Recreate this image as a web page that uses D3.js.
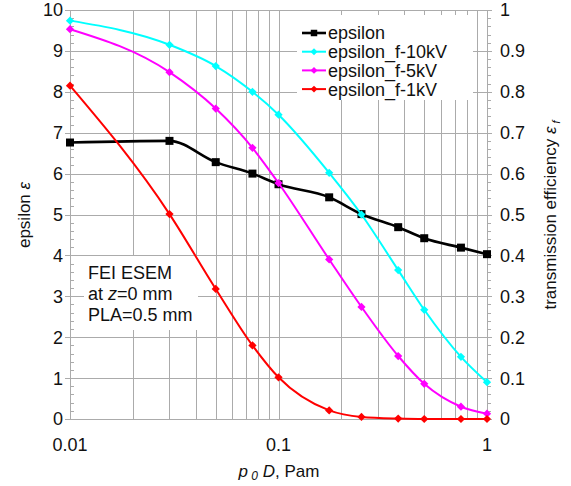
<!DOCTYPE html>
<html lang="en">
	<head>
		<meta charset="utf-8">
		<title>epsilon vs p0D</title>
		<script type="text/javascript" src="https://cdn.jsdelivr.net/npm/d3@7"></script>
		<style type="text/css">
			body { margin: 0; background: #fff; }
			text { font-family: "Liberation Sans", Arial, sans-serif; fill: #111; }
		</style>
	</head>
	<body>
		<script type="text/javascript">

			//Width and height
			var w = 571;
			var h = 486;

			//Data
			var pD = [0.01, 0.03, 0.05, 0.075, 0.1, 0.175, 0.25, 0.375, 0.5, 0.75, 1];
			var epsilon = [6.76, 6.80, 6.28, 6.0, 5.74, 5.42, 5.01, 4.69, 4.42, 4.19, 4.03];
			var eff10kV = [0.974, 0.915, 0.863, 0.80, 0.744, 0.602, 0.50, 0.364, 0.267, 0.152, 0.090];
			var eff5kV = [0.953, 0.848, 0.759, 0.663, 0.577, 0.390, 0.274, 0.154, 0.086, 0.030, 0.013];
			var eff1kV = [0.815, 0.501, 0.318, 0.180, 0.102, 0.021, 0.005, 0.001, 0, 0, 0];
			var leftTicks = [0, 1, 2, 3, 4, 5, 6, 7, 8, 9, 10];
			var rightTicks = [0, 0.1, 0.2, 0.3, 0.4, 0.5, 0.6, 0.7, 0.8, 0.9, 1];
			var xTicks = [0.01, 0.1, 1];

			var series = [
				{ name: "epsilon", values: epsilon, axis: "left", color: "#000000", rot: 0 },
				{ name: "epsilon_f-10kV", values: eff10kV, axis: "right", color: "#00ffff", rot: 45 },
				{ name: "epsilon_f-5kV", values: eff5kV, axis: "right", color: "#ff00ff", rot: 45 },
				{ name: "epsilon_f-1kV", values: eff1kV, axis: "right", color: "#ff0000", rot: 45 }
			];

			//Scales
			var xScale = d3.scaleLog()
							.domain([0.01, 1])
							.range([70, 487]);

			var yLeft = d3.scaleLinear()
							.domain([0, 10])
							.range([419, 10]);

			var yRight = d3.scaleLinear()
							.domain([0, 1])
							.range([419, 10]);

			//Create SVG element
			var svg = d3.select("body")
						.append("svg")
						.attr("width", w)
						.attr("height", h);

			//Grid lines
			var grid = svg.append("g")
						.attr("stroke", "#ababab")
						.attr("stroke-width", 1)
						.attr("shape-rendering", "crispEdges");

			grid.selectAll("line.v")
				.data(xScale.ticks())
				.enter()
				.append("line")
				.attr("class", "v")
				.attr("x1", function(d) { return Math.round(xScale(d)) + 0.5; })
				.attr("x2", function(d) { return Math.round(xScale(d)) + 0.5; })
				.attr("y1", yLeft(10))
				.attr("y2", yLeft(0));

			grid.selectAll("line.h")
				.data(leftTicks)
				.enter()
				.append("line")
				.attr("class", "h")
				.attr("x1", xScale(0.01) - 5)
				.attr("x2", xScale(1) + 5)
				.attr("y1", function(d) { return Math.round(yLeft(d)) + 0.5; })
				.attr("y2", function(d) { return Math.round(yLeft(d)) + 0.5; });

			//Minor ticks on both y axes
			var minor = d3.range(0, 10.01, 0.2).filter(function(d) { return Math.abs(d - Math.round(d)) > 0.01; });
			grid.selectAll("line.ml")
				.data(minor)
				.enter()
				.append("line")
				.attr("x1", xScale(0.01))
				.attr("x2", xScale(0.01) + 4)
				.attr("y1", function(d) { return Math.round(yLeft(d)) + 0.5; })
				.attr("y2", function(d) { return Math.round(yLeft(d)) + 0.5; });
			grid.selectAll("line.mr")
				.data(minor)
				.enter()
				.append("line")
				.attr("x1", xScale(1))
				.attr("x2", xScale(1) + 4)
				.attr("y1", function(d) { return Math.round(yLeft(d)) + 0.5; })
				.attr("y2", function(d) { return Math.round(yLeft(d)) + 0.5; });

			//Note box and legend box cover the grid
			svg.append("rect")
				.attr("x", 84).attr("y", 256)
				.attr("width", 114).attr("height", 74)
				.attr("fill", "#fff");

			svg.append("rect")
				.attr("x", 297).attr("y", 15)
				.attr("width", 176).attr("height", 85)
				.attr("fill", "#fff");

			//Tick labels
			svg.selectAll("text.yl")
				.data(leftTicks)
				.enter()
				.append("text")
				.attr("x", 63)
				.attr("y", function(d) { return yLeft(d); })
				.attr("dy", "0.36em")
				.attr("text-anchor", "end")
				.attr("font-size", "18px")
				.text(function(d) { return d; });

			svg.selectAll("text.yr")
				.data(rightTicks)
				.enter()
				.append("text")
				.attr("x", 500)
				.attr("y", function(d) { return yRight(d); })
				.attr("dy", "0.36em")
				.attr("font-size", "18px")
				.text(function(d) { return d; });

			svg.selectAll("text.xl")
				.data(xTicks)
				.enter()
				.append("text")
				.attr("x", function(d) { return xScale(d); })
				.attr("y", 451)
				.attr("text-anchor", "middle")
				.attr("font-size", "18px")
				.text(function(d) { return d; });

			//Axis titles
			var xt = svg.append("text")
				.attr("x", 279)
				.attr("y", 477)
				.attr("text-anchor", "middle")
				.attr("font-size", "17px");
			xt.append("tspan").attr("font-style", "italic").text("p");
			xt.append("tspan").attr("font-style", "italic").attr("font-size", "12px").attr("dy", 3).text(" 0");
			xt.append("tspan").attr("font-style", "italic").attr("dy", -3).text(" D");
			xt.append("tspan").text(", Pam");

			var yt = svg.append("text")
				.attr("transform", "translate(30,215) rotate(-90)")
				.attr("text-anchor", "middle")
				.attr("font-size", "17px");
			yt.append("tspan").text("epsilon ");
			yt.append("tspan").attr("font-style", "italic").text("ε");

			var rt = svg.append("text")
				.attr("transform", "translate(556,215) rotate(-90)")
				.attr("text-anchor", "middle")
				.attr("font-size", "17px");
			rt.append("tspan").text("transmission efficiency ");
			rt.append("tspan").attr("font-style", "italic").text("ε");
			rt.append("tspan").attr("font-style", "italic").attr("font-size", "11px").attr("dy", 4).text(" f");

			//Series lines and markers
			series.forEach(function(s) {
				var yScale = s.axis == "left" ? yLeft : yRight;
				var line = d3.line()
							.x(function(d, i) { return xScale(pD[i]); })
							.y(function(d) { return yScale(d); })
							.curve(d3.curveMonotoneX);

				svg.append("path")
					.datum(s.values)
					.attr("d", line)
					.attr("fill", "none")
					.attr("stroke", s.color)
					.attr("stroke-width", s.axis == "left" ? 2.6 : 2);

				svg.append("g")
					.selectAll("path")
					.data(s.values)
					.enter()
					.append("path")
					.attr("transform", function(d, i) { return "translate(" + xScale(pD[i]) + "," + yScale(d) + ") rotate(" + s.rot + ")"; })
					.attr("d", d3.symbol().type(d3.symbolSquare).size(s.axis == "left" ? 64 : 34))
					.attr("fill", s.color);
			});

			//Legend
			var legend = svg.append("g")
						.selectAll("g")
						.data(series)
						.enter()
						.append("g")
						.attr("transform", function(d, i) { return "translate(302," + (33 + i * 18.7) + ")"; });

			legend.append("line")
				.attr("x1", 0).attr("x2", 24)
				.attr("stroke", function(d) { return d.color; })
				.attr("stroke-width", function(d) { return d.axis == "left" ? 2.6 : 2; });

			legend.append("path")
				.attr("transform", function(d) { return "translate(12,0) rotate(" + d.rot + ")"; })
				.attr("d", function(d) { return d3.symbol().type(d3.symbolSquare).size(d.axis == "left" ? 42 : 24)(); })
				.attr("fill", function(d) { return d.color; });

			legend.append("text")
				.attr("x", 26)
				.attr("dy", "0.36em")
				.attr("font-size", "18px")
				.text(function(d) { return d.name; });

			//Note text
			var note = svg.append("text")
						.attr("x", 88)
						.attr("y", 279)
						.attr("font-size", "18px");
			note.append("tspan").attr("x", 88).text("FEI ESEM");
			var l2 = note.append("tspan").attr("x", 88).attr("dy", 21);
			l2.append("tspan").text("at ");
			l2.append("tspan").attr("font-style", "italic").text("z");
			l2.append("tspan").text("=0 mm");
			note.append("tspan").attr("x", 88).attr("dy", 21).text("PLA=0.5 mm");

		</script>
	</body>
</html>
